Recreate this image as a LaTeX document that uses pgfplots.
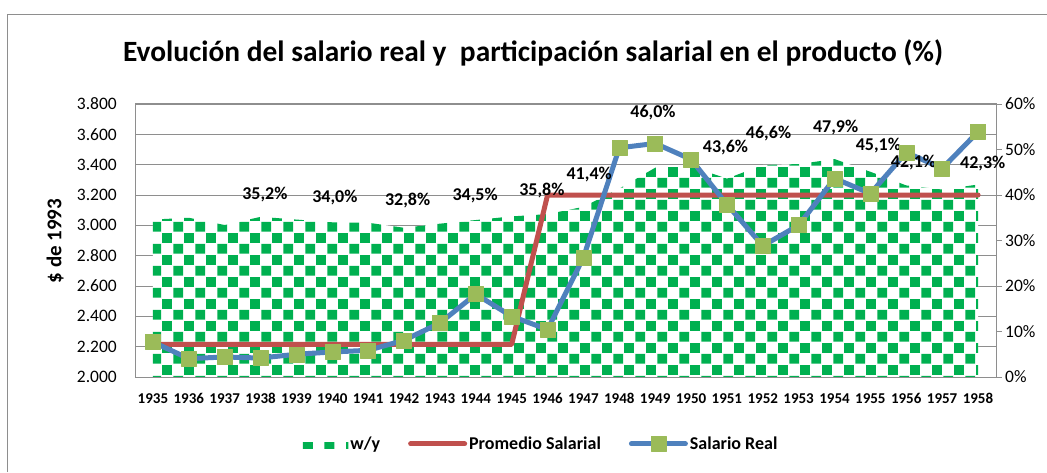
\documentclass[border=0pt]{standalone}
\usepackage{fontspec}
\setmainfont{Carlito}
\usepackage{pgfplots}
\usepackage{pgfplotstable}
\pgfplotsset{compat=1.18}
\usetikzlibrary{patterns}
\definecolor{wygreen}{HTML}{00B050}
\definecolor{promred}{HTML}{C0504D}
\definecolor{realblue}{HTML}{4F81BD}
\definecolor{mkgreen}{HTML}{9BBB59}
\definecolor{gridgray}{HTML}{8E8E8E}
\pgfdeclarepatternformonly{checker}{\pgfpointorigin}{\pgfpoint{21.6pt}{21.6pt}}{\pgfpoint{21.6pt}{21.6pt}}{%
 \pgfpathrectangle{\pgfpoint{0.4pt}{0.4pt}}{\pgfpoint{10pt}{10pt}}%
 \pgfpathrectangle{\pgfpoint{11.2pt}{11.2pt}}{\pgfpoint{10pt}{10pt}}%
 \pgfusepath{fill}}

\pgfplotstableread{
year real prom wy
1935 2231 2215 34.6
1936 2121 2215 35.0
1937 2132 2215 33.4
1938 2125 2215 35.2
1939 2150 2215 34.6
1940 2165 2215 34.0
1941 2176 2215 33.9
1942 2242 2215 32.8
1943 2356 2215 33.7
1944 2546 2215 34.5
1945 2400 2215 35.3
1946 2313 3200 35.8
1947 2788 3200 37.4
1948 3511 3200 41.4
1949 3540 3200 46.0
1950 3435 3200 46.3
1951 3138 3200 43.6
1952 2865 3200 46.6
1953 3001 3200 46.8
1954 3309 3200 47.9
1955 3210 3200 45.1
1956 3481 3200 42.1
1957 3375 3200 41.2
1958 3617 3200 42.3
}\data

\pgfplotsset{
  common/.style={
    at={(135pt,95pt)}, anchor=south west,
    scale only axis, width=861pt, height=273pt,
    xmin=1934.5, xmax=1958.5,
  },
  lineleg/.style={legend image code/.code={\draw[##1] (0pt,0pt) -- (54pt,0pt);}},
  markleg/.style={legend image code/.code={\draw[mark repeat=2, mark phase=2, ##1] plot coordinates {(0pt,0pt) (27pt,0pt) (54pt,0pt)};}},
  arealeg/.style={legend image code/.code={%
    \path[draw=none, pattern=checker, pattern color=wygreen] (0pt,-5pt) rectangle (52pt,1pt);}},
}

\begin{document}
\begin{tikzpicture}
\useasboundingbox (0,0) rectangle (1047pt,472pt);
\draw[gridgray, line width=1pt] (7pt,0) -- (7pt,457pt) -- (1047pt,457pt);
\node[font=\bfseries\fontsize{29.4}{34}\selectfont, anchor=base] at (533pt,410pt)
  {Evolución del salario real y~~participación salarial en el producto (\%)};
\node[font=\bfseries\fontsize{21}{25}\selectfont, rotate=90] at (55pt,231pt) {\$ de 1993};

% axis A: left scale, grid, x labels
\begin{axis}[common,
  ymin=2000, ymax=3800,
  ytick={2000,2200,...,3800},
  yticklabels={2.000,2.200,2.400,2.600,2.800,3.000,3.200,3.400,3.600,3.800},
  xtick={1935,...,1958},
  xticklabels={1935,1936,1937,1938,1939,1940,1941,1942,1943,1944,1945,1946,1947,1948,1949,1950,1951,1952,1953,1954,1955,1956,1957,1958},
  ymajorgrids, grid style={gridgray, line width=1pt},
  axis line style={gridgray, line width=1pt},
  major tick length=0pt,
  xticklabel style={font=\bfseries\fontsize{15}{18}\selectfont, anchor=north, inner sep=0pt, yshift=-16pt},
  yticklabel style={font=\fontsize{17.5}{21}\selectfont, anchor=east, inner sep=0pt, xshift=-18pt},
]
\addplot[draw=none] coordinates {(1935,2000)};
\end{axis}

% axis B: right scale, area
\begin{axis}[common,
  ymin=0, ymax=60,
  axis on top,
  ytick={0,10,...,60},
  yticklabels={0\%,10\%,20\%,30\%,40\%,50\%,60\%},
  ytick pos=right, xtick=\empty,
  tick align=outside, major tick length=6pt,
  tick style={gridgray, line width=1pt},
  axis line style={gridgray, line width=1pt},
  yticklabel style={font=\fontsize{17.5}{21}\selectfont, anchor=west, inner sep=0pt, xshift=3pt},
]
\addplot[draw=none, fill=white, postaction={pattern=checker, pattern color=wygreen}] table[x=year, y=wy] {\data} \closedcycle;
\end{axis}

% axis C: lines, labels, legend
\begin{axis}[common,
  ymin=2000, ymax=3800,
  hide axis, clip=false,
  legend style={at={(0.468,-0.245)}, anchor=center, legend columns=3, draw=none, fill=none,
    font=\bfseries\fontsize{18}{22}\selectfont,
    /tikz/every even column/.append style={column sep=26pt}},
  legend cell align=left,
]
\addlegendimage{arealeg}
\addlegendentry{w/y}
\addplot[promred, line width=5pt, line join=round, line cap=round, lineleg]
  table[x=year, y=prom] {\data};
\addlegendentry{Promedio Salarial}
\addplot[realblue, line width=5pt, line join=round, line cap=round,
  mark=square*, mark size=7.5pt, mark options={fill=mkgreen, draw=mkgreen, line width=0.5pt}, markleg]
  table[x=year, y=real] {\data};
\addlegendentry{Salario Real}
\begin{scope}[every node/.style={font=\bfseries\fontsize{18}{22}\selectfont, inner sep=0pt}]
\node at (axis cs:1938.12,3203) {35,2\%};
\node at (axis cs:1940.07,3182) {34,0\%};
\node at (axis cs:1942.10,3161) {32,8\%};
\node at (axis cs:1943.98,3194) {34,5\%};
\node at (axis cs:1945.84,3227) {35,8\%};
\node at (axis cs:1947.16,3335) {41,4\%};
\node at (axis cs:1948.94,3746) {46,0\%};
\node at (axis cs:1950.96,3515) {43,6\%};
\node at (axis cs:1952.16,3608) {46,6\%};
\node at (axis cs:1954.03,3647) {47,9\%};
\node at (axis cs:1955.22,3524) {45,1\%};
\node at (axis cs:1956.20,3413) {42,1\%};
\node at (axis cs:1958.13,3410) {42,3\%};
\end{scope}
\end{axis}
\end{tikzpicture}
\end{document}
